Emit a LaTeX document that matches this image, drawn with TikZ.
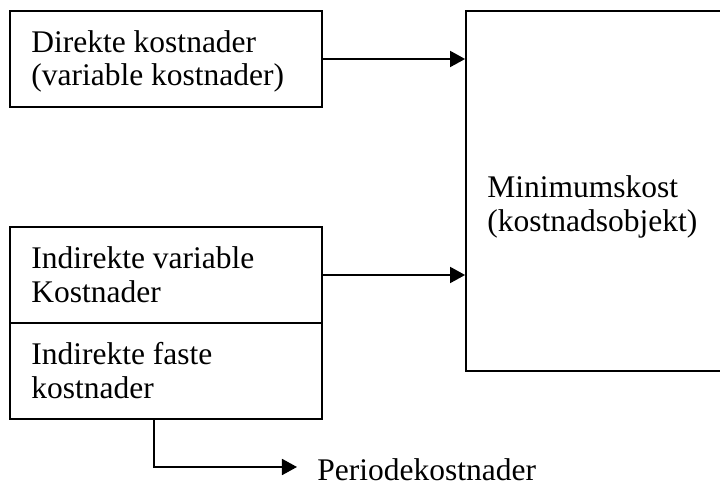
\documentclass[tikz,border=0pt]{standalone}
\usepackage{fontspec}
\setmainfont{Liberation Serif}
\usetikzlibrary{arrows.meta}
\begin{document}
\begin{tikzpicture}[x=0.5pt,y=-0.5pt,
  box/.style={draw=black,line width=0.9pt,inner sep=0pt,minimum width=156pt,minimum height=48pt},
  lbl/.style={anchor=base west,inner sep=0pt,align=left,font=\fontsize{15.75pt}{16.75pt}\selectfont},
  conn/.style={draw=black,line width=0.9pt,-{Triangle[length=7.5pt,width=8pt]}}]
\useasboundingbox (0,0) rectangle (720,486);
\clip (0,0) rectangle (720,486);
\node[box] (dir) at (166,59) {};
\node[box] (ivar) at (166,275) {};
\node[box] (ifast) at (166,371) {};
\node[box,minimum width=157pt,minimum height=180pt] (big) at (623,191) {};
\node[lbl] (tdir) at (31,86) {Direkte kostnader\\(variable kostnader)};
\node[lbl] (tivar) at (31,302.5) {Indirekte variable\\Kostnader};
\node[lbl] (tifast) at (31,398.5) {Indirekte faste\\kostnader};
\node[lbl] (tbig) at (487,231.5) {Minimumskost\\(kostnadsobjekt)};
\node[lbl] (per) at (317,481) {Periodekostnader};
\coordinate (bend) at (154,467);
\coordinate (tip) at (297,467);
\draw[conn] (dir.east) -- (dir.east -| big.west);
\draw[conn] (ivar.east) -- (ivar.east -| big.west);
\draw[conn] (ifast.south -| bend) |- (tip);
\end{tikzpicture}
\end{document}
